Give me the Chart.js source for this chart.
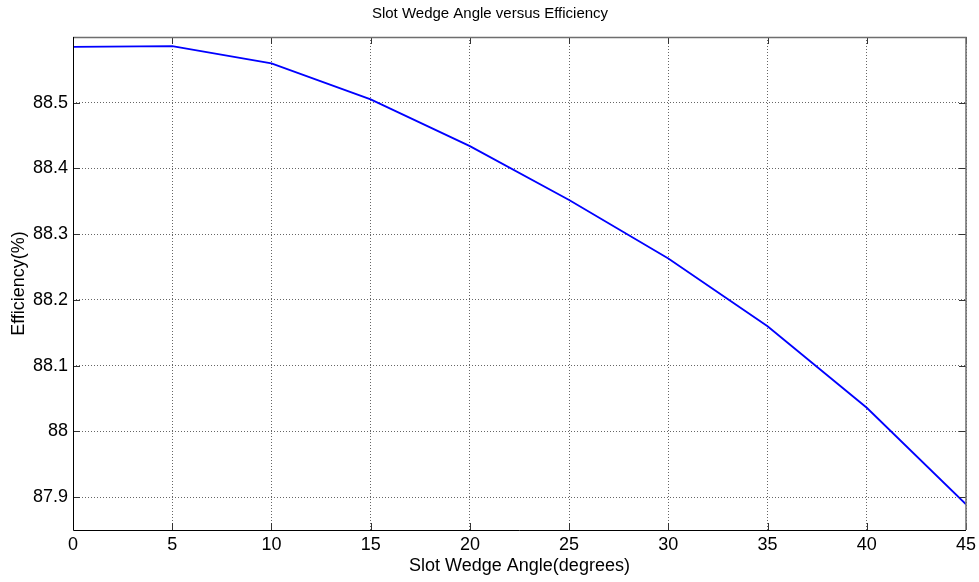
<!DOCTYPE html>
<html>
<head>
<meta charset="utf-8">
<title>Slot Wedge Angle versus Efficiency</title>
<script src="https://cdn.jsdelivr.net/npm/chart.js@4/dist/chart.umd.min.js"></script>
<style>
  html, body { margin: 0; padding: 0; background: #fff; }
  #chart { display: block; }
</style>
</head>
<body>
<canvas id="chart" width="979" height="582"></canvas>
<script>
// data
const wedgeAngles = [0, 5, 10, 15, 20, 25, 30, 35, 40, 45];
const efficiency = [88.585, 88.586, 88.560, 88.505, 88.434, 88.352, 88.263, 88.160, 88.036, 87.889];
const xTicks = [0, 5, 10, 15, 20, 25, 30, 35, 40, 45];
const yTicks = [87.9, 88.0, 88.1, 88.2, 88.3, 88.4, 88.5];

const FONT = 'Liberation Sans, Arial, Helvetica, sans-serif';

// matlab style box with inward ticks on all four sides
const boxTicks = {
  id: 'boxTicks',
  afterDatasetsDraw(chart) {
    const { ctx, chartArea: a, scales } = chart;
    const len = 7;
    ctx.save();
    ctx.lineWidth = 1;
    ctx.strokeStyle = '#333';
    ctx.beginPath();
    xTicks.forEach(v => {
      const x = Math.round(scales.x.getPixelForValue(v)) + 0.5;
      ctx.moveTo(x, a.bottom); ctx.lineTo(x, a.bottom - len);
      ctx.moveTo(x, a.top); ctx.lineTo(x, a.top + len);
    });
    yTicks.forEach(v => {
      const y = Math.round(scales.y.getPixelForValue(v)) + 0.5;
      ctx.moveTo(a.left, y); ctx.lineTo(a.left + len, y);
      ctx.moveTo(a.right, y); ctx.lineTo(a.right - len, y);
    });
    ctx.stroke();

    // top / right edges look grey in the original
    ctx.strokeStyle = '#6e6e6e';
    ctx.lineWidth = 1.5;
    ctx.beginPath();
    ctx.moveTo(a.left, a.top + 0.5); ctx.lineTo(a.right, a.top + 0.5);
    ctx.lineTo(a.right, a.bottom);
    ctx.stroke();

    ctx.strokeStyle = '#000';
    ctx.lineWidth = 1;
    ctx.beginPath();
    ctx.moveTo(Math.round(a.left) + 0.5, a.top);
    ctx.lineTo(Math.round(a.left) + 0.5, Math.round(a.bottom) + 0.5);
    ctx.lineTo(a.right, Math.round(a.bottom) + 0.5);
    ctx.stroke();
    ctx.restore();
  }
};

new Chart(document.getElementById('chart'), {
  type: 'line',
  data: {
    datasets: [{
      data: wedgeAngles.map((x, i) => ({ x, y: efficiency[i] })),
      borderColor: '#0000ff',
      borderWidth: 1.8,
      pointRadius: 0,
      tension: 0,
      fill: false,
    }]
  },
  options: {
    responsive: false,
    animation: false,
    // left padding only shifts the title so it centres like the original
    layout: { padding: { left: 14, right: 13, top: 0, bottom: 0 } },
    plugins: {
      legend: { display: false },
      tooltip: { enabled: false },
      title: {
        display: true,
        text: 'Slot Wedge Angle versus Efficiency',
        color: '#000',
        font: { family: FONT, size: 15, weight: 'normal' },
        padding: { top: 5, bottom: 14 },
      },
    },
    scales: {
      x: {
        type: 'linear',
        min: 0,
        max: 45,
        afterBuildTicks: s => { s.ticks = xTicks.map(v => ({ value: v })); },
        afterFit: s => { s.height = 52; s.paddingLeft = 0; s.paddingRight = 0; },
        grid: { color: '#666', lineWidth: 1, drawTicks: false },
        border: { display: false, dash: [1, 2] },
        ticks: {
          color: '#000',
          padding: 4,
          maxRotation: 0,
          font: { family: FONT, size: 18 },
        },
        title: {
          display: true,
          text: 'Slot Wedge Angle(degrees)',
          color: '#000',
          font: { family: FONT, size: 18 },
          padding: { top: 0, bottom: 5 },
        },
      },
      y: {
        min: 87.85,
        max: 88.6,
        afterBuildTicks: s => { s.ticks = yTicks.map(v => ({ value: v })); },
        afterFit: s => { s.width = 59; },
        grid: { color: '#666', lineWidth: 1, drawTicks: false },
        border: { display: false, dash: [1, 2] },
        ticks: {
          color: '#000',
          padding: 5,
          font: { family: FONT, size: 18 },
          callback: v => (Math.round(v * 10) / 10).toString(),
        },
        title: {
          display: true,
          text: 'Efficiency(%)',
          color: '#000',
          font: { family: FONT, size: 18 },
          padding: { top: -6, bottom: 0 },
        },
      },
    },
  },
  plugins: [boxTicks],
});
</script>
</body>
</html>
